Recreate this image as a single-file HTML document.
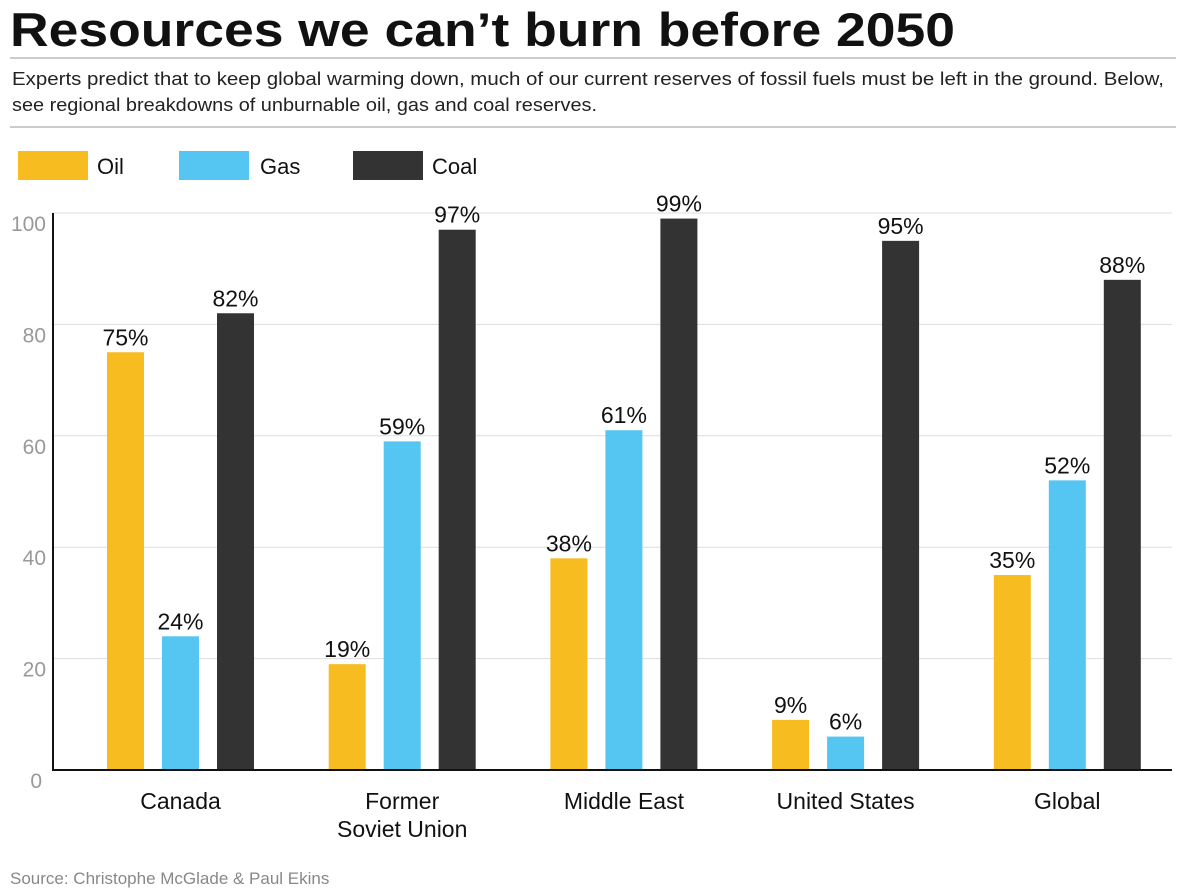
<!DOCTYPE html>
<html><head><meta charset="utf-8"><style>
body{margin:0;background:#fff;width:1200px;height:891px;overflow:hidden;font-family:"Liberation Sans",sans-serif}
</style></head><body>
<svg width="1200" height="891" xmlns="http://www.w3.org/2000/svg">
<text x="10" y="46" font-size="47" font-weight="bold" fill="#111" textLength="945" lengthAdjust="spacingAndGlyphs">Resources we can’t burn before 2050</text>
<line x1="10" y1="58" x2="1176" y2="58" stroke="#ccc" stroke-width="2"/>
<text x="12" y="85" font-size="18" fill="#222" textLength="1152" lengthAdjust="spacingAndGlyphs">Experts predict that to keep global warming down, much of our current reserves of fossil fuels must be left in the ground. Below,</text>
<text x="12" y="111" font-size="18" fill="#222" textLength="585" lengthAdjust="spacingAndGlyphs">see regional breakdowns of unburnable oil, gas and coal reserves.</text>
<line x1="10" y1="127" x2="1176" y2="127" stroke="#ccc" stroke-width="2"/>
<g>
<rect x="18" y="151" width="70" height="29" fill="#f7bc20"/>
<text x="97" y="174" font-size="22" fill="#111">Oil</text>
<rect x="179" y="151" width="70" height="29" fill="#55c6f1"/>
<text x="260" y="174" font-size="22" fill="#111">Gas</text>
<rect x="353" y="151" width="70" height="29" fill="#333"/>
<text x="432" y="174" font-size="22" fill="#111">Coal</text>
</g>
<g id="plot"></g>
<text x="10" y="884" font-size="17" fill="#888">Source: Christophe McGlade &amp; Paul Ekins</text>
</svg>
<script>
const categories=[["Canada"],["Former","Soviet Union"],["Middle East"],["United States"],["Global"]];
const oil=[75,19,38,9,35];
const gas=[24,59,61,6,52];
const coal=[82,97,99,95,88];
const ticks=[0,20,40,60,80,100];
const NS="http://www.w3.org/2000/svg";
const g=document.getElementById('plot');
const y0=770,yTop=213,xL=53,xR=1172;
const y=v=>y0-(v/100)*(y0-yTop);
const groupX=i=>107+i*221.7;
function el(t,a){const e=document.createElementNS(NS,t);for(const k in a)e.setAttribute(k,a[k]);g.appendChild(e);return e;}
ticks.forEach(t=>{
 if(t>0){const l=el('line',{x1:xL,x2:xR,y1:y(t),y2:y(t),stroke:'#ddd','stroke-width':1});
 
 }
 const tx=el('text',{x:t===0?42:46,y:y(t)+18,'font-size':21,fill:'#999','text-anchor':'end'});
 tx.textContent=t;
 
 
});
const ax=el('line',{x1:xL,x2:xL,y1:yTop,y2:y0+1,stroke:'#111','stroke-width':2});


const series=[["oil",oil,"#f7bc20"],["gas",gas,"#55c6f1"],["coal",coal,"#333"]];
categories.forEach((c,i)=>{
 series.forEach((s,j)=>{
  const x=groupX(i)+j*55,v=s[1][i];
  const r=el('rect',{x:x,y:y(v),width:37,height:y0-y(v),fill:s[2]});
  
  
  const t=el('text',{x:x+18.5,y:y(v)-7,'font-size':23,fill:'#111','text-anchor':'middle'});
  t.textContent=v+'%';
  
  
 });
 c.forEach((line,k)=>{
  const t=el('text',{x:groupX(i)+73.5,y:809+k*28,'font-size':23,fill:'#111','text-anchor':'middle'});
  t.textContent=line;
  
  
 });
});
const bl=el('line',{x1:xL,x2:xR,y1:y0,y2:y0,stroke:'#111','stroke-width':2});


</script>
</body></html>
